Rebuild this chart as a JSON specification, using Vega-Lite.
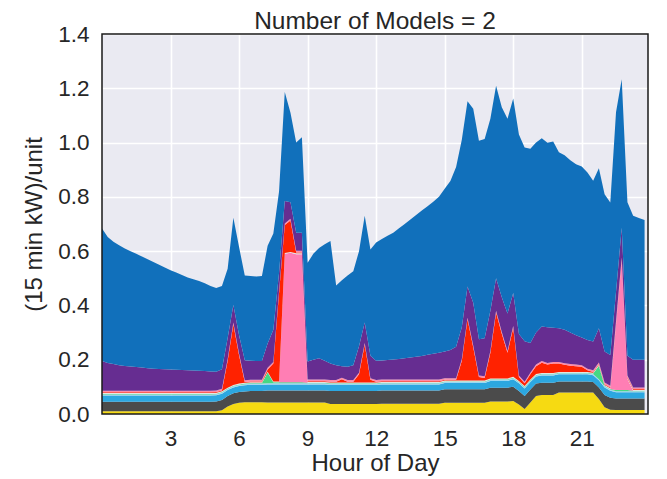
{
  "$schema": "https://vega.github.io/schema/vega-lite/v6.json",
  "width": 546,
  "height": 380,
  "autosize": {"type": "none"},
  "padding": {"left": 102, "top": 34, "right": 19, "bottom": 65},
  "background": "white",
  "title": {"text": "Number of Models = 2", "fontSize": 24.5, "font": "Liberation Sans", "fontWeight": "normal", "color": "#262626", "anchor": "middle", "frame": "group", "baseline": "alphabetic", "offset": 7, "dy": 37},
  "config": {
    "view": {"fill": "#eaeaf2", "stroke": null},
    "axis": {"domain": false, "ticks": false, "tickSize": 0, "grid": true, "gridColor": "#ffffff", "gridWidth": 1.6, "labelFont": "Liberation Sans", "labelFontSize": 22.5, "labelColor": "#262626", "titleFont": "Liberation Sans", "titleFontSize": 24, "titleFontWeight": "normal", "titleColor": "#262626", "labelFlush": false, "labelOverlap": false}
  },
  "data": {"values": [
    {"x":0,"a":0.010,"b":0.035,"c":0.023,"d":0.004,"e":0.002,"f":0,"g":0.003,"h":0.003,"i":0.006,"j":0.109,"k":0.488},
    {"x":0.25,"a":0.010,"b":0.035,"c":0.023,"d":0.004,"e":0.002,"f":0,"g":0.003,"h":0.003,"i":0.006,"j":0.102,"k":0.464},
    {"x":0.5,"a":0.010,"b":0.035,"c":0.023,"d":0.004,"e":0.002,"f":0,"g":0.003,"h":0.003,"i":0.006,"j":0.098,"k":0.451},
    {"x":0.75,"a":0.010,"b":0.035,"c":0.023,"d":0.004,"e":0.002,"f":0,"g":0.003,"h":0.003,"i":0.006,"j":0.094,"k":0.442},
    {"x":1,"a":0.010,"b":0.035,"c":0.023,"d":0.004,"e":0.002,"f":0,"g":0.003,"h":0.003,"i":0.006,"j":0.091,"k":0.433},
    {"x":1.25,"a":0.010,"b":0.035,"c":0.023,"d":0.004,"e":0.002,"f":0,"g":0.003,"h":0.003,"i":0.006,"j":0.089,"k":0.425},
    {"x":1.5,"a":0.010,"b":0.035,"c":0.023,"d":0.004,"e":0.002,"f":0,"g":0.003,"h":0.003,"i":0.006,"j":0.087,"k":0.417},
    {"x":1.75,"a":0.010,"b":0.035,"c":0.023,"d":0.004,"e":0.002,"f":0,"g":0.003,"h":0.003,"i":0.006,"j":0.085,"k":0.409},
    {"x":2,"a":0.010,"b":0.035,"c":0.023,"d":0.004,"e":0.002,"f":0,"g":0.003,"h":0.003,"i":0.006,"j":0.083,"k":0.401},
    {"x":2.25,"a":0.010,"b":0.035,"c":0.023,"d":0.004,"e":0.002,"f":0,"g":0.003,"h":0.003,"i":0.006,"j":0.081,"k":0.393},
    {"x":2.5,"a":0.010,"b":0.035,"c":0.023,"d":0.004,"e":0.002,"f":0,"g":0.003,"h":0.003,"i":0.006,"j":0.080,"k":0.384},
    {"x":2.75,"a":0.010,"b":0.035,"c":0.023,"d":0.004,"e":0.002,"f":0,"g":0.003,"h":0.003,"i":0.006,"j":0.079,"k":0.375},
    {"x":3,"a":0.010,"b":0.035,"c":0.023,"d":0.004,"e":0.002,"f":0,"g":0.003,"h":0.003,"i":0.006,"j":0.078,"k":0.366},
    {"x":3.25,"a":0.010,"b":0.035,"c":0.023,"d":0.004,"e":0.002,"f":0,"g":0.003,"h":0.003,"i":0.006,"j":0.077,"k":0.358},
    {"x":3.5,"a":0.010,"b":0.035,"c":0.023,"d":0.004,"e":0.002,"f":0,"g":0.003,"h":0.003,"i":0.006,"j":0.076,"k":0.350},
    {"x":3.75,"a":0.010,"b":0.035,"c":0.023,"d":0.004,"e":0.002,"f":0,"g":0.003,"h":0.003,"i":0.006,"j":0.075,"k":0.342},
    {"x":4,"a":0.010,"b":0.035,"c":0.023,"d":0.004,"e":0.002,"f":0,"g":0.003,"h":0.003,"i":0.006,"j":0.074,"k":0.336},
    {"x":4.25,"a":0.010,"b":0.035,"c":0.023,"d":0.004,"e":0.002,"f":0,"g":0.003,"h":0.003,"i":0.006,"j":0.073,"k":0.331},
    {"x":4.5,"a":0.010,"b":0.035,"c":0.023,"d":0.004,"e":0.002,"f":0,"g":0.003,"h":0.003,"i":0.006,"j":0.072,"k":0.324},
    {"x":4.75,"a":0.010,"b":0.035,"c":0.023,"d":0.004,"e":0.002,"f":0,"g":0.003,"h":0.003,"i":0.006,"j":0.071,"k":0.315},
    {"x":5,"a":0.010,"b":0.036,"c":0.023,"d":0.004,"e":0.002,"f":0,"g":0.003,"h":0.003,"i":0.006,"j":0.069,"k":0.308},
    {"x":5.25,"a":0.014,"b":0.038,"c":0.023,"d":0.004,"e":0.002,"f":0,"g":0.003,"h":0.003,"i":0.006,"j":0.072,"k":0.307},
    {"x":5.5,"a":0.028,"b":0.038,"c":0.022,"d":0.004,"e":0.002,"f":0,"g":0.003,"h":0.099,"i":0.006,"j":0.078,"k":0.255},
    {"x":5.75,"a":0.037,"b":0.039,"c":0.022,"d":0.004,"e":0.002,"f":0,"g":0.003,"h":0.224,"i":0.006,"j":0.065,"k":0.321},
    {"x":6,"a":0.041,"b":0.040,"c":0.022,"d":0.004,"e":0.002,"f":0,"g":0.003,"h":0.104,"i":0.006,"j":0.068,"k":0.325},
    {"x":6.25,"a":0.043,"b":0.040,"c":0.023,"d":0.004,"e":0.002,"f":0,"g":0.003,"h":0.003,"i":0.006,"j":0.074,"k":0.312},
    {"x":6.5,"a":0.043,"b":0.042,"c":0.023,"d":0.004,"e":0.002,"f":0,"g":0.003,"h":0.003,"i":0.006,"j":0.070,"k":0.312},
    {"x":6.75,"a":0.043,"b":0.042,"c":0.023,"d":0.004,"e":0.002,"f":0,"g":0.003,"h":0.003,"i":0.006,"j":0.069,"k":0.312},
    {"x":7,"a":0.043,"b":0.042,"c":0.023,"d":0.004,"e":0.002,"f":0,"g":0.003,"h":0.003,"i":0.006,"j":0.069,"k":0.313},
    {"x":7.25,"a":0.042,"b":0.045,"c":0.022,"d":0.004,"e":0.040,"f":0,"g":0.003,"h":0.008,"i":0.006,"j":0.090,"k":0.360},
    {"x":7.5,"a":0.042,"b":0.045,"c":0.022,"d":0.004,"e":0.004,"f":0,"g":0.003,"h":0.066,"i":0.006,"j":0.118,"k":0.355},
    {"x":7.75,"a":0.042,"b":0.045,"c":0.022,"d":0.004,"e":0.004,"f":0,"g":0.003,"h":0.326,"i":0.006,"j":0.068,"k":0.300},
    {"x":8,"a":0.042,"b":0.045,"c":0.022,"d":0.004,"e":0.004,"f":0.473,"g":0.003,"h":0.103,"i":0.006,"j":0.083,"k":0.401},
    {"x":8.25,"a":0.042,"b":0.045,"c":0.022,"d":0.004,"e":0.004,"f":0.477,"g":0.003,"h":0.116,"i":0.006,"j":0.061,"k":0.330},
    {"x":8.5,"a":0.042,"b":0.045,"c":0.022,"d":0.004,"e":0.004,"f":0.472,"g":0.003,"h":0.003,"i":0.006,"j":0.067,"k":0.332},
    {"x":8.75,"a":0.042,"b":0.045,"c":0.022,"d":0.004,"e":0.004,"f":0.472,"g":0.003,"h":0.003,"i":0.006,"j":0.067,"k":0.352},
    {"x":9,"a":0.042,"b":0.045,"c":0.022,"d":0.004,"e":0.002,"f":0,"g":0.003,"h":0.003,"i":0.006,"j":0.066,"k":0.364},
    {"x":9.25,"a":0.042,"b":0.045,"c":0.022,"d":0.004,"e":0.002,"f":0,"g":0.003,"h":0.003,"i":0.006,"j":0.073,"k":0.390},
    {"x":9.5,"a":0.042,"b":0.045,"c":0.022,"d":0.004,"e":0.002,"f":0,"g":0.003,"h":0.003,"i":0.006,"j":0.078,"k":0.407},
    {"x":9.75,"a":0.042,"b":0.045,"c":0.022,"d":0.004,"e":0.002,"f":0,"g":0.003,"h":0.003,"i":0.006,"j":0.069,"k":0.429},
    {"x":10,"a":0.037,"b":0.048,"c":0.022,"d":0.004,"e":0.002,"f":0,"g":0.003,"h":0.003,"i":0.006,"j":0.061,"k":0.451},
    {"x":10.25,"a":0.037,"b":0.048,"c":0.022,"d":0.004,"e":0.002,"f":0,"g":0.003,"h":0.003,"i":0.006,"j":0.055,"k":0.293},
    {"x":10.5,"a":0.037,"b":0.048,"c":0.022,"d":0.004,"e":0.002,"f":0,"g":0.003,"h":0.012,"i":0.006,"j":0.042,"k":0.317},
    {"x":10.75,"a":0.037,"b":0.048,"c":0.022,"d":0.004,"e":0.002,"f":0,"g":0.003,"h":0.003,"i":0.006,"j":0.049,"k":0.336},
    {"x":11,"a":0.037,"b":0.048,"c":0.022,"d":0.004,"e":0.002,"f":0,"g":0.003,"h":0.003,"i":0.006,"j":0.055,"k":0.346},
    {"x":11.25,"a":0.037,"b":0.048,"c":0.022,"d":0.004,"e":0.002,"f":0,"g":0.003,"h":0.030,"i":0.006,"j":0.098,"k":0.350},
    {"x":11.5,"a":0.037,"b":0.048,"c":0.022,"d":0.004,"e":0.002,"f":0,"g":0.003,"h":0.140,"i":0.006,"j":0.075,"k":0.393},
    {"x":11.75,"a":0.037,"b":0.048,"c":0.022,"d":0.004,"e":0.002,"f":0,"g":0.003,"h":0.010,"i":0.006,"j":0.083,"k":0.391},
    {"x":12,"a":0.037,"b":0.048,"c":0.022,"d":0.004,"e":0.002,"f":0,"g":0.003,"h":0.003,"i":0.006,"j":0.071,"k":0.436},
    {"x":12.25,"a":0.038,"b":0.049,"c":0.022,"d":0.004,"e":0.002,"f":0,"g":0.003,"h":0.003,"i":0.006,"j":0.070,"k":0.448},
    {"x":12.5,"a":0.038,"b":0.049,"c":0.022,"d":0.004,"e":0.002,"f":0,"g":0.003,"h":0.003,"i":0.006,"j":0.072,"k":0.458},
    {"x":12.75,"a":0.038,"b":0.049,"c":0.022,"d":0.004,"e":0.002,"f":0,"g":0.003,"h":0.003,"i":0.006,"j":0.074,"k":0.467},
    {"x":13,"a":0.038,"b":0.049,"c":0.022,"d":0.004,"e":0.002,"f":0,"g":0.003,"h":0.003,"i":0.006,"j":0.076,"k":0.481},
    {"x":13.25,"a":0.038,"b":0.049,"c":0.022,"d":0.004,"e":0.002,"f":0,"g":0.003,"h":0.003,"i":0.006,"j":0.078,"k":0.495},
    {"x":13.5,"a":0.038,"b":0.049,"c":0.022,"d":0.004,"e":0.002,"f":0,"g":0.003,"h":0.003,"i":0.006,"j":0.081,"k":0.509},
    {"x":13.75,"a":0.038,"b":0.049,"c":0.022,"d":0.004,"e":0.002,"f":0,"g":0.003,"h":0.003,"i":0.006,"j":0.084,"k":0.522},
    {"x":14,"a":0.038,"b":0.049,"c":0.022,"d":0.004,"e":0.002,"f":0,"g":0.003,"h":0.003,"i":0.006,"j":0.087,"k":0.536},
    {"x":14.25,"a":0.038,"b":0.049,"c":0.022,"d":0.004,"e":0.002,"f":0,"g":0.003,"h":0.003,"i":0.006,"j":0.091,"k":0.547},
    {"x":14.5,"a":0.038,"b":0.049,"c":0.022,"d":0.004,"e":0.002,"f":0,"g":0.003,"h":0.003,"i":0.006,"j":0.095,"k":0.560},
    {"x":14.75,"a":0.038,"b":0.049,"c":0.022,"d":0.004,"e":0.002,"f":0,"g":0.003,"h":0.003,"i":0.006,"j":0.099,"k":0.574},
    {"x":15,"a":0.041,"b":0.050,"c":0.023,"d":0.004,"e":0.002,"f":0,"g":0.003,"h":0.003,"i":0.006,"j":0.098,"k":0.600},
    {"x":15.25,"a":0.041,"b":0.050,"c":0.023,"d":0.004,"e":0.002,"f":0,"g":0.003,"h":0.003,"i":0.006,"j":0.104,"k":0.622},
    {"x":15.5,"a":0.041,"b":0.050,"c":0.023,"d":0.004,"e":0.002,"f":0,"g":0.003,"h":0.003,"i":0.006,"j":0.116,"k":0.662},
    {"x":15.75,"a":0.041,"b":0.050,"c":0.023,"d":0.004,"e":0.002,"f":0,"g":0.003,"h":0.073,"i":0.006,"j":0.118,"k":0.690},
    {"x":16,"a":0.041,"b":0.050,"c":0.023,"d":0.004,"e":0.002,"f":0,"g":0.003,"h":0.226,"i":0.006,"j":0.115,"k":0.682},
    {"x":16.25,"a":0.041,"b":0.050,"c":0.023,"d":0.004,"e":0.002,"f":0,"g":0.003,"h":0.123,"i":0.006,"j":0.158,"k":0.715},
    {"x":16.5,"a":0.041,"b":0.050,"c":0.023,"d":0.004,"e":0.002,"f":0,"g":0.003,"h":0.013,"i":0.006,"j":0.133,"k":0.732},
    {"x":16.75,"a":0.041,"b":0.050,"c":0.023,"d":0.004,"e":0.002,"f":0,"g":0.003,"h":0.010,"i":0.006,"j":0.140,"k":0.734},
    {"x":17,"a":0.046,"b":0.051,"c":0.025,"d":0.004,"e":0.002,"f":0,"g":0.003,"h":0.095,"i":0.006,"j":0.148,"k":0.708},
    {"x":17.25,"a":0.046,"b":0.051,"c":0.025,"d":0.004,"e":0.002,"f":0,"g":0.003,"h":0.243,"i":0.006,"j":0.120,"k":0.709},
    {"x":17.5,"a":0.046,"b":0.051,"c":0.025,"d":0.004,"e":0.002,"f":0,"g":0.003,"h":0.165,"i":0.006,"j":0.128,"k":0.700},
    {"x":17.75,"a":0.046,"b":0.051,"c":0.025,"d":0.004,"e":0.002,"f":0,"g":0.003,"h":0.095,"i":0.006,"j":0.138,"k":0.718},
    {"x":18,"a":0.048,"b":0.052,"c":0.028,"d":0.004,"e":0.002,"f":0,"g":0.003,"h":0.181,"i":0.006,"j":0.122,"k":0.716},
    {"x":18.25,"a":0.035,"b":0.050,"c":0.028,"d":0.004,"e":0.002,"f":0,"g":0.003,"h":0.014,"i":0.006,"j":0.153,"k":0.735},
    {"x":18.5,"a":0.018,"b":0.048,"c":0.028,"d":0.004,"e":0.002,"f":0,"g":0.003,"h":0.010,"i":0.006,"j":0.149,"k":0.714},
    {"x":18.75,"a":0.042,"b":0.048,"c":0.028,"d":0.004,"e":0.002,"f":0,"g":0.003,"h":0.019,"i":0.006,"j":0.110,"k":0.715},
    {"x":19,"a":0.066,"b":0.046,"c":0.026,"d":0.004,"e":0.002,"f":0,"g":0.003,"h":0.029,"i":0.006,"j":0.118,"k":0.700},
    {"x":19.25,"a":0.070,"b":0.045,"c":0.027,"d":0.004,"e":0.002,"f":0,"g":0.003,"h":0.038,"i":0.006,"j":0.127,"k":0.694},
    {"x":19.5,"a":0.070,"b":0.045,"c":0.027,"d":0.004,"e":0.002,"f":0,"g":0.003,"h":0.031,"i":0.006,"j":0.132,"k":0.679},
    {"x":19.75,"a":0.070,"b":0.045,"c":0.027,"d":0.004,"e":0.002,"f":0,"g":0.003,"h":0.035,"i":0.006,"j":0.126,"k":0.686},
    {"x":20,"a":0.079,"b":0.041,"c":0.026,"d":0.004,"e":0.002,"f":0,"g":0.003,"h":0.031,"i":0.006,"j":0.124,"k":0.648},
    {"x":20.25,"a":0.079,"b":0.041,"c":0.026,"d":0.004,"e":0.002,"f":0,"g":0.003,"h":0.026,"i":0.006,"j":0.123,"k":0.643},
    {"x":20.5,"a":0.079,"b":0.041,"c":0.026,"d":0.004,"e":0.002,"f":0,"g":0.003,"h":0.023,"i":0.006,"j":0.116,"k":0.635},
    {"x":20.75,"a":0.079,"b":0.041,"c":0.026,"d":0.004,"e":0.002,"f":0,"g":0.003,"h":0.021,"i":0.006,"j":0.108,"k":0.630},
    {"x":21,"a":0.079,"b":0.041,"c":0.026,"d":0.004,"e":0.002,"f":0,"g":0.003,"h":0.019,"i":0.006,"j":0.102,"k":0.630},
    {"x":21.25,"a":0.079,"b":0.041,"c":0.026,"d":0.004,"e":0.002,"f":0,"g":0.003,"h":0.006,"i":0.006,"j":0.106,"k":0.617},
    {"x":21.5,"a":0.079,"b":0.039,"c":0.025,"d":0.004,"e":0.002,"f":0,"g":0.003,"h":0.003,"i":0.006,"j":0.106,"k":0.592},
    {"x":21.75,"a":0.055,"b":0.043,"c":0.026,"d":0.004,"e":0.050,"f":0,"g":0.003,"h":0.003,"i":0.006,"j":0.126,"k":0.589},
    {"x":22,"a":0.025,"b":0.045,"c":0.028,"d":0.004,"e":0.002,"f":0,"g":0.003,"h":0.003,"i":0.006,"j":0.114,"k":0.580},
    {"x":22.25,"a":0.016,"b":0.044,"c":0.026,"d":0.004,"e":0.002,"f":0,"g":0.003,"h":0.003,"i":0.006,"j":0.113,"k":0.562},
    {"x":22.5,"a":0.015,"b":0.042,"c":0.023,"d":0.004,"e":0.004,"f":0.242,"g":0.003,"h":0.003,"i":0.006,"j":0.108,"k":0.662},
    {"x":22.75,"a":0.015,"b":0.042,"c":0.023,"d":0.004,"e":0.004,"f":0.477,"g":0.003,"h":0.003,"i":0.006,"j":0.109,"k":0.547},
    {"x":23,"a":0.015,"b":0.042,"c":0.023,"d":0.004,"e":0.004,"f":0.042,"g":0.003,"h":0.003,"i":0.006,"j":0.073,"k":0.565},
    {"x":23.25,"a":0.015,"b":0.042,"c":0.023,"d":0.004,"e":0.002,"f":0,"g":0.003,"h":0.003,"i":0.006,"j":0.102,"k":0.530},
    {"x":23.5,"a":0.015,"b":0.042,"c":0.023,"d":0.004,"e":0.002,"f":0,"g":0.003,"h":0.003,"i":0.006,"j":0.102,"k":0.522},
    {"x":23.75,"a":0.015,"b":0.042,"c":0.023,"d":0.004,"e":0.002,"f":0,"g":0.003,"h":0.003,"i":0.006,"j":0.102,"k":0.515}
  ]},
  "layer": [
    {
      "transform": [{"fold": ["a","b","c","d","e","f","g","h","i","j","k"], "as": ["key","val"]}],
      "mark": {"type": "area", "interpolate": "linear", "opacity": 1},
      "encoding": {
        "x": {"field": "x", "type": "quantitative", "scale": {"domain": [0, 23.9], "nice": false, "zero": false},
              "axis": {"values": [3,6,9,12,15,18,21], "title": "Hour of Day", "labelPadding": 31, "labelBaseline": "alphabetic", "titleY": 56, "titleBaseline": "alphabetic"}},
        "y": {"field": "val", "type": "quantitative", "stack": "zero", "scale": {"domain": [0, 1.4], "nice": false},
              "axis": {"values": [0,0.2,0.4,0.6,0.8,1.0,1.2,1.4], "format": ".1f", "title": "(15 min kW)/unit", "labelPadding": 13, "titleX": -61, "titleY": 190, "titleAngle": -90, "titleBaseline": "alphabetic", "titleAlign": "center"}},
        "color": {"field": "key", "type": "nominal",
                  "scale": {"domain": ["a","b","c","d","e","f","g","h","i","j","k"],
                            "range": ["#f6da12","#4b4b4b","#2ca7e0","#9fd8f2","#46d884","#ff7eb4","#e6e6e6","#ff2200","#ff8aa8","#662d91","#1170bb"]},
                  "legend": null},
        "order": {"field": "key", "sort": "ascending"}
      }
    },
    {
      "data": {"values": [{}]},
      "mark": {"type": "rect", "fill": "transparent", "stroke": "#1a1a1a", "strokeWidth": 1.5},
      "encoding": {"x": {"datum": 0}, "x2": {"datum": 23.9}, "y": {"datum": 0}, "y2": {"datum": 1.4}}
    }
  ]
}
